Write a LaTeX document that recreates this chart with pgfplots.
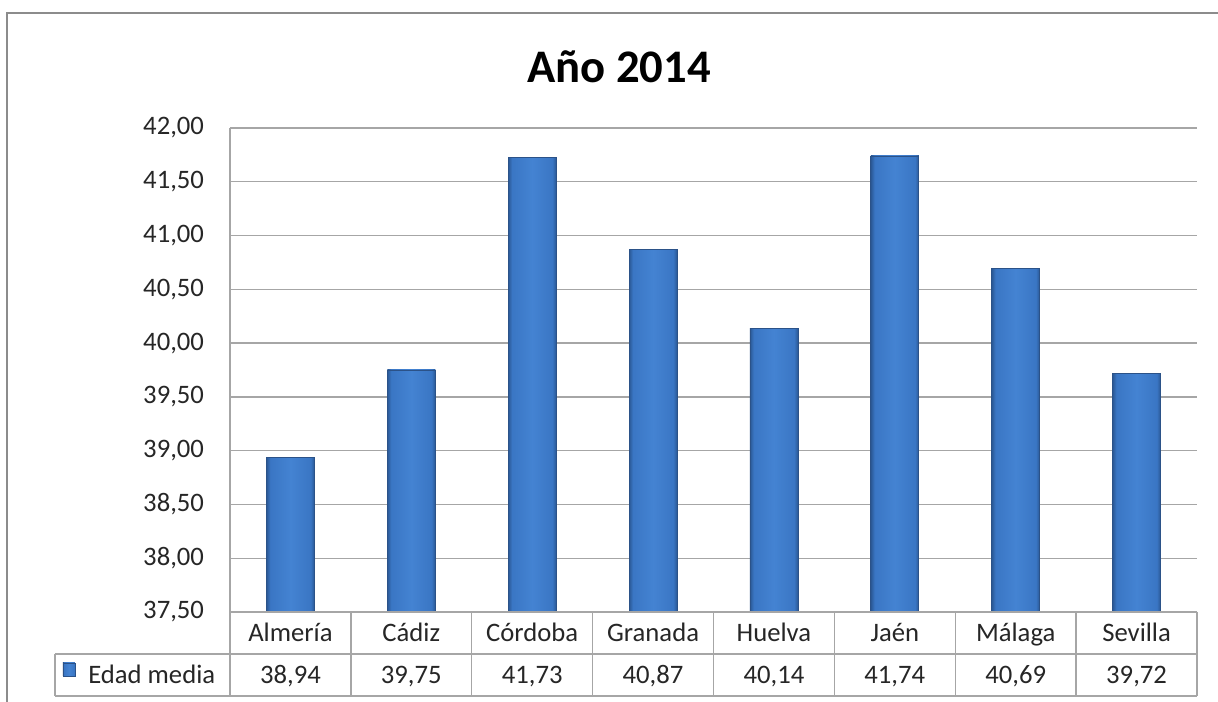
\documentclass[border=0pt]{standalone}
\usepackage{fontspec}
\setmainfont{Carlito}
\usepackage{pgfplots}
\pgfplotsset{compat=1.18}
\definecolor{gridc}{HTML}{A6A6A6}
\definecolor{barmid}{HTML}{4483D2}
\definecolor{barmain}{HTML}{3A76C4}
\definecolor{baredge}{HTML}{2A5894}
\definecolor{barline}{HTML}{2B5288}
\definecolor{framec}{HTML}{8C8C8C}
\definecolor{txt}{HTML}{262626}
\pgfdeclarehorizontalshading{barshade}{100bp}{color(0bp)=(baredge); color(25bp)=(baredge); color(29bp)=(barmain); color(50bp)=(barmid); color(71bp)=(barmain); color(75bp)=(baredge); color(100bp)=(baredge)}
\begin{document}
\begin{tikzpicture}[x=0.75pt,y=0.75pt]
\useasboundingbox (-230,-90) rectangle (988,612);
\begin{axis}[
  at={(0,0)}, anchor=south west,
  width=725.25pt, height=363pt, scale only axis,
  xmin=-0.5, xmax=7.5, ymin=37.5, ymax=42,
  ytick={37.5,38,38.5,39,39.5,40,40.5,41,41.5,42},
  xtick=\empty,
  axis lines*=left,
  axis line style={draw=gridc, line width=1pt},
  ymajorgrids, grid style={draw=gridc, line width=1pt},
  tick style={draw=none},
  /pgf/number format/assume math mode=true,
  yticklabel={\pgfmathprintnumber[fixed,fixed zerofill,precision=2,use comma]{\tick}},
  yticklabel style={font=\fontsize{20}{24}\selectfont, text=txt, xshift=-16pt},
  clip=true,
  mybar/.style={ybar, bar width=36pt, bar shift=0pt, draw=barline, line width=0.6pt,
    shading=barshade},
]
\addplot[mybar] coordinates {(0,38.94)};
\addplot[mybar] coordinates {(1,39.75)};
\addplot[mybar] coordinates {(2,41.73)};
\addplot[mybar] coordinates {(3,40.87)};
\addplot[mybar] coordinates {(4,40.14)};
\addplot[mybar] coordinates {(5,41.74)};
\addplot[mybar] coordinates {(6,40.69)};
\addplot[mybar] coordinates {(7,39.72)};
\end{axis}
% title
\node[font=\bfseries\fontsize{35}{42}\selectfont, text=black] at (389,545) {Año 2014};
% frame
\draw[framec, line width=1.5pt] (-222.5,-95) -- (-222.5,599) -- (995,599);
% data table
\begin{scope}[draw=gridc, line width=1pt]
\draw (0,0) -- (967,0);
\draw (-175,-42) -- (967,-42);
\draw (-175,-84) -- (967,-84);
\draw (-175,-42) -- (-175,-84);
\draw (0,0) -- (0,-84);
\foreach \k in {1,...,8} { \draw (\k*120.875,0) -- (\k*120.875,-84); }
\end{scope}
\begin{scope}[font=\fontsize{20}{24}\selectfont, text=txt, every node/.style={anchor=base, inner sep=0pt}]
\node at (60.44,-29.5) {Almería};
\node at (181.31,-29.5) {Cádiz};
\node at (302.19,-29.5) {Córdoba};
\node at (423.06,-29.5) {Granada};
\node at (543.94,-29.5) {Huelva};
\node at (664.81,-29.5) {Jaén};
\node at (785.69,-29.5) {Málaga};
\node at (906.56,-29.5) {Sevilla};
\node at (60.44,-71.5) {38,94};
\node at (181.31,-71.5) {39,75};
\node at (302.19,-71.5) {41,73};
\node at (423.06,-71.5) {40,87};
\node at (543.94,-71.5) {40,14};
\node at (664.81,-71.5) {41,74};
\node at (785.69,-71.5) {40,69};
\node at (906.56,-71.5) {39,72};
\shade[shading=barshade, draw=barline] (-167,-51) rectangle (-155,-64);
\node[anchor=base west] at (-142,-71.5) {Edad media};
\end{scope}
\end{tikzpicture}
\end{document}
